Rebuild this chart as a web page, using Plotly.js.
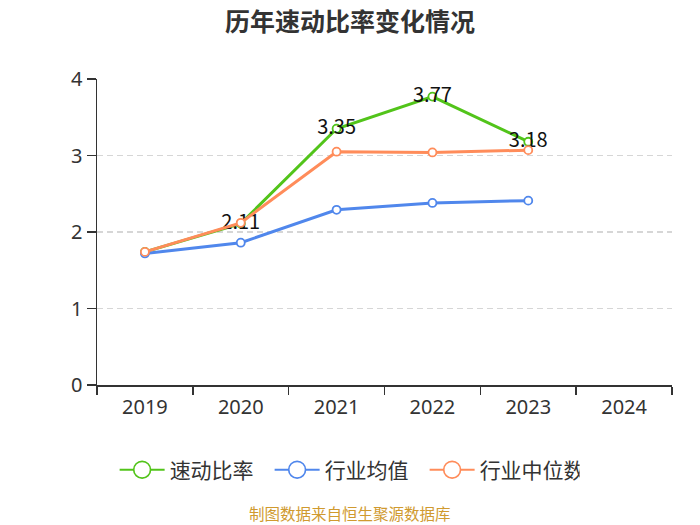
<!DOCTYPE html>
<html><head><meta charset="utf-8">
<script src="https://cdn.plot.ly/plotly-3.0.1.min.js"></script>
<style>body{margin:0;background:#fff}#chart{width:700px;height:525px}</style>
</head><body><div id="chart"></div>
<script>
const years = ['2019','2020','2021','2022','2023','2024'];
const quickRatio = [1.74, 2.11, 3.35, 3.77, 3.18, null];
const industryMean = [1.72, 1.86, 2.29, 2.38, 2.41, null];
const industryMedian = [1.74, 2.12, 3.05, 3.04, 3.07, null];
const quickLabels = ['', '2.11', '3.35', '3.77', '3.18', ''];

const FONT = '"Noto Sans CJK SC", "Noto Sans", sans-serif';
function tr(name, y, color, text) {
  const t = {
    x: years, y: y, name: name, type: 'scatter', mode: 'lines+markers',
    line: {color: color, width: 3},
    marker: {size: 8, color: '#ffffff', line: {color: color, width: 1.8}},
    cliponaxis: false
  };
  if (text) {
    t.mode = 'lines+markers+text';
    t.text = text;
    t.textposition = 'middle center';
    t.textfont = {size: 20, color: '#111', family: FONT};
  }
  return t;
}
const data = [
  tr('速动比率', quickRatio, '#52c41a', quickLabels),
  tr('行业均值', industryMean, '#5087ec'),
  tr('行业中位数', industryMedian, '#ff8c5a')
];
const layout = {
  width: 700, height: 525,
  margin: {l: 97, r: 28, t: 79, b: 140},
  paper_bgcolor: '#fff', plot_bgcolor: '#fff',
  font: {family: FONT, color: '#333'},
  title: {text: '<b>历年速动比率变化情况</b>', x: 0.5, xanchor: 'center', y: 0.958, yanchor: 'middle', font: {size: 25, color: '#333', family: FONT}},
  xaxis: {
    type: 'category', range: [-0.5, 5.5], showgrid: false,
    showline: true, linecolor: '#333', linewidth: 1.5,
    ticks: 'outside', tickson: 'boundaries', ticklen: 8, tickcolor: '#333', tickwidth: 1.5,
    ticklabelstandoff: 3,
    tickfont: {size: 20, color: '#333', family: '"Noto Sans", sans-serif'}, zeroline: false
  },
  yaxis: {
    range: [0, 4], tickvals: [0, 1, 2, 3, 4], showgrid: true, gridcolor: '#d6d6d6', griddash: '6px,4px', gridwidth: 1.2,
    showline: true, linecolor: '#333', linewidth: 1.5, ticks: 'outside', ticklen: 9, tickcolor: '#333', tickwidth: 1.5,
    tickfont: {size: 20, color: '#333', family: '"Noto Sans", sans-serif'}, zeroline: false
  },
  showlegend: true,
  legend: {
    orientation: 'h', x: 0.435, xanchor: 'center', y: -0.278, yanchor: 'middle',
    font: {size: 21, color: '#333'}, traceorder: 'normal', itemwidth: 45,
    entrywidth: 95, entrywidthmode: 'pixels'
  },
  annotations: [{
    text: '制图数据来自恒生聚源数据库', xref: 'paper', yref: 'paper', x: 0.44, y: -0.418,
    xanchor: 'center', yanchor: 'middle', showarrow: false,
    font: {size: 15.5, color: '#d09a2f', family: FONT}
  }]
};
Plotly.newPlot('chart', data, layout, {displayModeBar: false, staticPlot: true}).then(function (gd) {
  // enlarge legend symbols to match the reference's legend style
  gd.querySelectorAll('.legend .legendpoints path.scatterpts').forEach(function (p) {
    const t = p.getAttribute('transform') || '';
    p.setAttribute('transform', t + ' scale(2.1)');
    p.style.strokeWidth = '0.8px';
  });
  gd.querySelectorAll('.legend .legendlines path').forEach(function (p) {
    p.style.strokeWidth = '2px';
  });
});
</script></body></html>
